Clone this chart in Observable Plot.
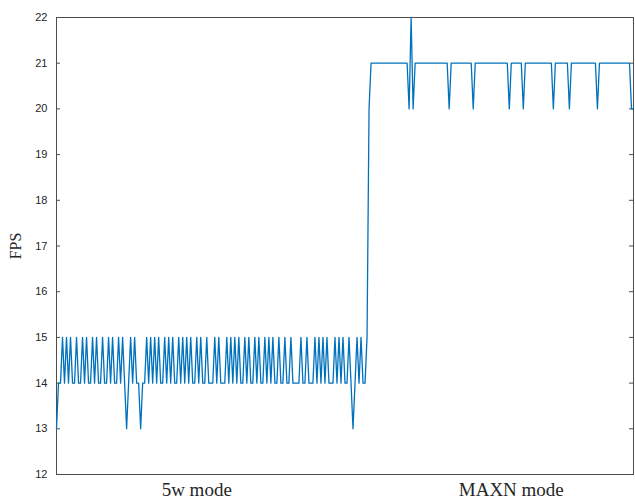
<!DOCTYPE html>
<html>
<head>
<meta charset="utf-8">
<script src="https://cdn.jsdelivr.net/npm/d3@7"></script>
<script src="https://cdn.jsdelivr.net/npm/@observablehq/plot@0.6"></script>
<style>
  html, body { margin: 0; padding: 0; background: #fff; }
  svg { display: block; }
</style>
</head>
<body>
<div id="chart"></div>
<script>
// FPS samples (5w mode first, then MAXN mode)
const fps = [
  13,14,14,15,14,15,14,15,14,14,
  15,14,14,15,14,15,14,14,15,14,
  15,14,14,15,14,14,15,14,15,14,
  14,15,14,15,14,13,14,15,14,15,
  14,14,13,14,14,15,14,15,14,15,
  14,15,14,14,15,14,15,14,15,14,
  14,15,14,15,14,15,14,15,14,14,
  15,14,15,14,14,15,14,14,14,15,
  14,15,14,14,14,15,14,15,14,15,
  14,15,14,14,15,14,15,14,14,15,
  14,15,14,14,15,14,15,14,15,14,
  14,15,14,14,15,14,14,15,14,14,
  14,14,15,14,14,15,14,14,14,15,
  14,15,14,15,14,15,14,14,14,15,
  14,15,14,15,14,14,15,14,13,14,
  15,14,15,14,14,15,20,21,21,21,
  21,21,21,21,21,21,21,21,21,21,
  21,21,21,21,21,21,20,22,20,21,
  21,21,21,21,21,21,21,21,21,21,
  21,21,21,21,21,21,20,21,21,21,
  21,21,21,21,21,21,21,21,20,21,
  21,21,21,21,21,21,21,21,21,21,
  21,21,21,21,21,21,20,21,21,21,
  21,21,21,20,21,21,21,21,21,21,
  21,21,21,21,21,21,21,21,20,21,
  21,21,21,21,21,21,20,21,21,21,
  21,21,21,21,21,21,21,21,21,21,
  20,21,21,21,21,21,21,21,21,21,
  21,21,21,21,21,21,21,20,20
];
const sampleIndex = fps.map((_, i) => i);

const yTicks = [12, 13, 14, 15, 16, 17, 18, 19, 20, 21, 22];
const xTickPositions = [70, 227];
const xTickLabels = ["5w mode", "MAXN mode"];
const yLabel = "FPS";

const data = sampleIndex.map(i => ({i, v: fps[i]}));

const W = 635, H = 499;
const mL = 56, mR = 2, mT = 17, mB = 25;
const innerW = W - mL - mR;
const tickLen = 4;
const axisColor = "#4d4d4d";

const chart = Plot.plot({
  width: W,
  height: H,
  marginLeft: mL,
  marginRight: mR,
  marginTop: mT,
  marginBottom: mB,
  style: {background: "#fff", overflow: "visible"},
  x: {domain: [0, fps.length - 1], axis: null},
  y: {domain: [12, 22], axis: null},
  marks: [
    Plot.frame({stroke: axisColor, strokeWidth: 1}),
    // inward ticks, left and right
    Plot.tickY(yTicks, {y: d => d, stroke: axisColor, insetRight: innerW - tickLen}),
    Plot.tickY(yTicks, {y: d => d, stroke: axisColor, insetLeft: innerW - tickLen}),
    Plot.axisY({
      ticks: yTicks,
      tickSize: 0,
      tickPadding: 9,
      tickFormat: d => String(d),
      fontFamily: "Liberation Sans, Arial, sans-serif",
      fontSize: 11,
      color: "#262626",
      label: null
    }),
    Plot.axisY({
      ticks: [],
      tickSize: 0,
      label: yLabel,
      labelAnchor: "center",
      labelArrow: "none",
      labelOffset: 47,
      fontFamily: "Liberation Serif, Times New Roman, serif",
      fontSize: 16,
      color: "#262626"
    }),
    Plot.axisX({
      ticks: xTickPositions,
      tickFormat: (d, k) => xTickLabels[xTickPositions.indexOf(d)],
      tickSize: 0,
      tickPadding: 8,
      fontFamily: "Liberation Serif, Times New Roman, serif",
      fontSize: 19,
      color: "#262626",
      label: null
    }),
    Plot.line(data, {x: "i", y: "v", stroke: "#0072BD", strokeWidth: 1.3, curve: "linear"})
  ]
});

document.getElementById("chart").appendChild(chart);
</script>
</body>
</html>
